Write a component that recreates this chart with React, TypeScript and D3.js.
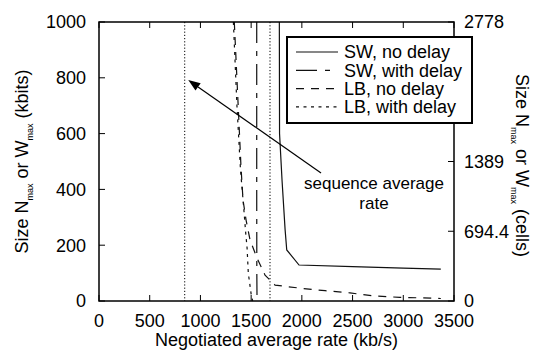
import React from "react";
import * as d3 from "d3";

const W = 534, H = 351;
const M = { left: 99, right: 454, top: 22, bottom: 301 };

const xTicks = [0, 500, 1000, 1500, 2000, 2500, 3000, 3500];
const yTicks = [0, 200, 400, 600, 800, 1000];
const yRightTicks = [0, 694.4, 1389, 2778];
const yRightTickLabels = ["0", "694.4", "1389", "2778"];

const swNoDelay: [number, number][] = [
  [1778, 1000], [1780, 600], [1805, 430], [1835, 255], [1851, 183],
  [1972, 129], [2500, 123], [3000, 118], [3370, 114],
];
const swWithDelay: [number, number][] = [
  [1555, 1000], [1555, 400], [1556, 100], [1558, 4],
];
const lbNoDelay: [number, number][] = [
  [1334, 1000], [1371, 710], [1400, 480], [1420, 362], [1450, 290], [1489, 219],
  [1558, 154], [1637, 93], [1736, 57], [1982, 46], [2229, 37], [2475, 29],
  [2712, 18], [2968, 13], [3314, 10], [3370, 9],
];
const lbWithDelay: [number, number][] = [
  [1325, 1000], [1360, 700], [1395, 470], [1430, 320], [1445, 250],
  [1460, 190], [1472, 100], [1500, 25], [1515, 0],
];
const refRates = [845, 1686];

const seriesNames = ["SW, no delay", "SW, with delay", "LB, no delay", "LB, with delay"];
const seriesData = [swNoDelay, swWithDelay, lbNoDelay, lbWithDelay];
const seriesDash = ["none", "21,8,5,8", "8,7", "3,4.5"];

const arrowFrom: [number, number] = [2189, 459];
const arrowTo: [number, number] = [880, 792];
const noteAt: [number, number] = [2711, 400];
const noteLines = ["sequence average", "rate"];

const FONT = "'Liberation Sans', Arial, Helvetica, sans-serif";

export default function App() {
  const x = d3.scaleLinear().domain([0, 3500]).range([M.left, M.right]);
  const y = d3.scaleLinear().domain([0, 1000]).range([M.bottom, M.top]);
  const yR = d3.scaleLinear().domain([0, 2778]).range([M.bottom, M.top]);
  const line = d3.line<[number, number]>().x(d => x(d[0])).y(d => y(d[1]));

  const ax1 = x(arrowFrom[0]), ay1 = y(arrowFrom[1]);
  const ax2 = x(arrowTo[0]), ay2 = y(arrowTo[1]);
  const ang = Math.atan2(ay2 - ay1, ax2 - ax1);
  const hl = 12, hw = 4.5;
  const bx = ax2 - hl * Math.cos(ang), by = ay2 - hl * Math.sin(ang);
  const head = [
    [ax2, ay2],
    [bx + hw * Math.sin(ang), by - hw * Math.cos(ang)],
    [bx - hw * Math.sin(ang), by + hw * Math.cos(ang)],
  ].map(p => p.join(",")).join(" ");

  const legX = 287, legY = 37, legW = 185, legH = 86;
  const rowH = 18.3;

  return (
    <svg width={W} height={H} style={{ position: "absolute", left: 0, top: 0, background: "#fff" }}
      fontFamily={FONT}>
      <rect x={0} y={0} width={W} height={H} fill="#fff" />
      {/* reference lines */}
      {refRates.map((r, i) => (
        <line key={i} x1={x(r)} x2={x(r)} y1={M.top} y2={M.bottom} stroke="#000"
          strokeWidth={1} strokeDasharray="1.2,2" />
      ))}
      {/* curves */}
      {seriesData.map((s, i) => (
        <path key={i} d={line(s) || ""} fill="none" stroke="#111" strokeWidth={1.2}
          strokeDasharray={seriesDash[i]} />
      ))}
      {/* frame */}
      <rect x={M.left} y={M.top} width={M.right - M.left} height={M.bottom - M.top}
        fill="none" stroke="#000" strokeWidth={1.5} />
      {/* ticks */}
      {xTicks.map(t => (
        <g key={"xt" + t}>
          <line x1={x(t)} x2={x(t)} y1={M.bottom} y2={M.bottom - 6} stroke="#000" strokeWidth={1} />
          <line x1={x(t)} x2={x(t)} y1={M.top} y2={M.top + 6} stroke="#000" strokeWidth={1} />
          <text x={x(t)} y={327} fontSize={18} textAnchor="middle">{t}</text>
        </g>
      ))}
      {yTicks.map(t => (
        <g key={"yt" + t}>
          <line x1={M.left} x2={M.left + 6} y1={y(t)} y2={y(t)} stroke="#000" strokeWidth={1} />
          <text x={86} y={y(t)} dy="0.36em" fontSize={18} textAnchor="end">{t}</text>
        </g>
      ))}
      {yRightTicks.map((t, i) => (
        <g key={"yr" + t}>
          <line x1={M.right} x2={M.right - 6} y1={yR(t)} y2={yR(t)} stroke="#000" strokeWidth={1} />
          <text x={464} y={yR(t)} dy="0.36em" fontSize={18} textAnchor="start">{yRightTickLabels[i]}</text>
        </g>
      ))}
      {/* axis titles */}
      <text x={(M.left + M.right) / 2} y={346} fontSize={18} textAnchor="middle">
        Negotiated average rate (kb/s)
      </text>
      <text transform={`translate(28,${(M.top + M.bottom) / 2}) rotate(-90)`} fontSize={18} textAnchor="middle">
        Size N<tspan fontSize={9} dy={5}>max</tspan><tspan dy={-5}> or W</tspan>
        <tspan fontSize={9} dy={5}>max</tspan><tspan dy={-5}> (kbits)</tspan>
      </text>
      <text transform={`translate(516,${(M.top + M.bottom) / 2 + 4}) rotate(90)`} fontSize={18} textAnchor="middle">
        Size N<tspan fontSize={9} dy={5}>max</tspan><tspan dy={-5}> or W</tspan>
        <tspan fontSize={9} dy={5}>max</tspan><tspan dy={-5}> (cells)</tspan>
      </text>
      {/* legend */}
      <rect x={legX} y={legY} width={legW} height={legH} fill="#fff" stroke="#000" strokeWidth={2} />
      {seriesNames.map((n, i) => (
        <g key={n}>
          <line x1={296} x2={338} y1={52 + i * rowH} y2={52 + i * rowH} stroke="#111"
            strokeWidth={1.2} strokeDasharray={seriesDash[i]} />
          <text x={344} y={58.3 + i * rowH} fontSize={18}>{n}</text>
        </g>
      ))}
      {/* annotation */}
      <line x1={ax1} y1={ay1} x2={bx} y2={by} stroke="#000" strokeWidth={1.2} />
      <polygon points={head} fill="#000" />
      {noteLines.map((t, i) => (
        <text key={t} x={x(noteAt[0])} y={y(noteAt[1]) + i * 19.8} fontSize={17} textAnchor="middle">{t}</text>
      ))}
    </svg>
  );
}
